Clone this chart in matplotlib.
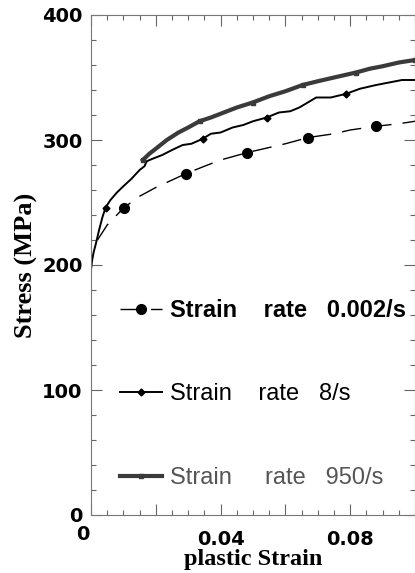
import matplotlib
matplotlib.use('Agg')
import matplotlib.pyplot as plt
from matplotlib.ticker import MultipleLocator, FixedLocator, FixedFormatter
from matplotlib.transforms import ScaledTranslation

# ---- data ----
strain_002 = [0.002, 0.005, 0.0102, 0.015, 0.020, 0.0292, 0.035, 0.040, 0.0483,
              0.055, 0.060, 0.0671, 0.075, 0.080, 0.088, 0.095, 0.100]
stress_002 = [220, 232, 246, 255, 262, 273, 279, 284, 290,
              294, 297, 302, 305, 308, 311, 313, 315]
marks_002 = [2, 5, 8, 11, 14]

strain_8 = [0, 0.0003, 0.0008, 0.0015, 0.0025, 0.0035, 0.0045, 0.006, 0.008, 0.010,
            0.0125, 0.015, 0.0165, 0.0172, 0.019, 0.022, 0.025, 0.0283, 0.031, 0.0345,
            0.037, 0.040, 0.0437, 0.047, 0.050, 0.0542, 0.058, 0.0615, 0.0643, 0.0695,
            0.074, 0.0788, 0.083, 0.088, 0.092, 0.096, 0.100]
stress_8 = [196, 203, 210, 217, 228, 238, 246, 252, 258, 263,
            269, 276, 279, 283, 285, 288, 292, 296, 297, 301,
            305, 306, 310, 312, 315, 318, 322, 323, 326, 334,
            334, 337, 341, 344, 346, 348, 348]
marks_8 = [6, 19, 25, 31]

strain_950 = [0.016, 0.018, 0.020, 0.0234, 0.027, 0.030, 0.0335, 0.037, 0.040, 0.045,
              0.0499, 0.055, 0.060, 0.0653, 0.070, 0.075, 0.0818, 0.086, 0.090, 0.095, 0.100]
stress_950 = [284, 289, 293, 300, 306, 310, 315, 318, 321, 326,
              330, 335, 339, 344, 347, 350, 354, 357, 359, 362, 364]
marks_950 = [0, 6, 10, 13, 16, 20]

labels = ['Strain    rate   0.002/s', 'Strain    rate   8/s', 'Strain     rate   950/s']
x_ticks = [0, 0.02, 0.04, 0.06, 0.08]
x_ticklabels = ['0', '', '0.04', '', '0.08']
y_ticks = [0, 100, 200, 300, 400]
y_ticklabels = ['0', '100', '200', '300', '400']

fig = plt.figure(figsize=(4.15, 5.73), dpi=100)
ax = fig.add_axes([91/415, 1-515/573, 1-91/415, 500/573])

l1, = ax.plot(strain_002, stress_002, color='black', lw=1.0, dashes=(14, 8),
              marker='o', ms=7, markevery=marks_002, label=labels[0])
l2, = ax.plot(strain_8, stress_8, color='black', lw=1.4,
              marker='D', ms=3.5, markevery=marks_8, label=labels[1])
l3, = ax.plot(strain_950, stress_950, color='#3a3a3a', lw=3.0,
              marker='s', ms=3.5, markevery=marks_950, label=labels[2])

ax.set_xlim(0, 0.1)
ax.set_ylim(0, 400)
ax.xaxis.set_major_locator(FixedLocator(x_ticks))
ax.xaxis.set_major_formatter(FixedFormatter(x_ticklabels))
ax.xaxis.set_minor_locator(MultipleLocator(0.005))
ax.yaxis.set_major_locator(FixedLocator(y_ticks))
ax.yaxis.set_major_formatter(FixedFormatter(y_ticklabels))
ax.yaxis.set_minor_locator(MultipleLocator(20))

ax.tick_params(which='both', direction='in', top=True, right=True, color='#666666', width=0.8)
ax.tick_params(which='major', length=8)
ax.tick_params(which='minor', length=3.5)
ax.tick_params(axis='x', which='major', pad=11)
ax.tick_params(axis='y', which='major', pad=6)
for t in ax.get_xticklabels() + ax.get_yticklabels():
    t.set_fontfamily('DejaVu Sans')
    t.set_fontweight('bold')
    t.set_fontsize(14)
# the x-axis "0" sits a little left of and above the other x labels
x0 = ax.get_xticklabels()[0]
x0.set_transform(x0.get_transform() + ScaledTranslation(-8/100, 5/100, fig.dpi_scale_trans))
for s in ax.spines.values():
    s.set_color('#777777')
    s.set_linewidth(0.8)

ax.set_ylabel('Stress (MPa)', fontfamily='Liberation Serif', fontweight='bold',
              fontsize=19, labelpad=3)
ax.set_xlabel('plastic Strain', fontfamily='Liberation Serif', fontweight='bold',
              fontsize=17.5, labelpad=0)

leg = ax.legend(handles=[l1, l2, l3], loc='center left', bbox_to_anchor=(0.0895, 0.242),
                frameon=False, prop={'family': 'Liberation Sans', 'size': 17},
                handlelength=1.8, handletextpad=0.3, labelspacing=2.6,
                borderpad=0, borderaxespad=0, numpoints=1)
texts = leg.get_texts()
texts[0].set_fontweight('bold')
texts[1].set_fontweight('normal')
texts[2].set_color('#555555')

fig.savefig('out.png', dpi=100)
